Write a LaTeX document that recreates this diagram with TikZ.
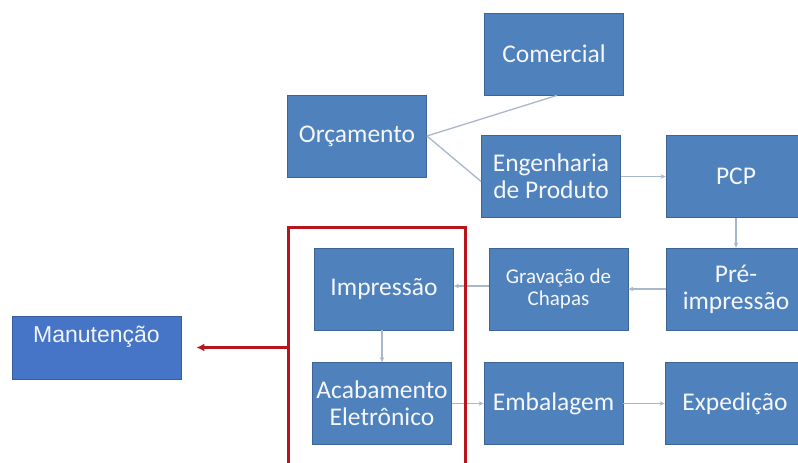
\documentclass[tikz,border=0pt]{standalone}
\usepackage{fontspec}
\setmainfont{Carlito}
\newfontfamily\arialfont{Liberation Sans}
\usetikzlibrary{arrows.meta,calc}

\definecolor{boxblue}{HTML}{4F81BD}
\definecolor{boxedge}{HTML}{3B6596}
\definecolor{mainblue}{HTML}{4674C6}
\definecolor{linkgray}{HTML}{A8B7CA}
\definecolor{groupred}{HTML}{B8141C}

\begin{document}
\begin{tikzpicture}[x=1pt,y=-1pt,
  proc/.style={rectangle, fill=boxblue, draw=boxedge, line width=0.8pt,
    minimum width=139pt, minimum height=82pt, text=white!94!boxblue,
    align=center, inner sep=2pt, font=\fontsize{25.5}{27}\selectfont},
  small/.style={font=\fontsize{21}{22.5}\selectfont},
  flow/.style={draw=linkgray, line width=1.3pt, -{Stealth[length=5pt,width=4.5pt]}},
  link/.style={draw=linkgray, line width=1.3pt}]

\useasboundingbox (0,0) rectangle (798,463);
\clip (0,0) rectangle (798,463);
\fill[white] (0,0) rectangle (798,463);

% process boxes
\node[proc] (com)  at (554,54)    {Comercial};
\node[proc] (orc)  at (357,136)   {Orçamento};
\node[proc] (eng)  at (551,176.5) {Engenharia\\de Produto};
\node[proc, minimum width=140pt] (pcp)  at (736,176.5) {PCP};
\node[proc, minimum width=140pt] (pre)  at (736,289)   {Pré-\\impressão};
\node[proc, small] (grav) at (558.5,289) {Gravação de\\Chapas};
\node[proc] (imp)  at (384,289)   {Impressão};
\node[proc] (acab) at (382,403.5) {Acabamento\\Eletrônico};
\node[proc] (emb)  at (553.5,403.5) {Embalagem};
\node[proc, minimum width=140pt] (exped) at (735,403.5) {Expedição};

% maintenance box
\node[rectangle, fill=mainblue, draw=mainblue!80!black, line width=0.8pt,
  minimum width=169pt, minimum height=63pt] (man) at (96.5,347.5) {};
\node[text=white!92!mainblue, font=\arialfont\fontsize{23}{25}\selectfont,
  inner sep=0pt] (mantxt) at (96.5,337) {Manutenção};

% connectors
\draw[link] (orc.east) -- ([xshift=3pt]com.south);
\draw[link] (orc.east) -- ([yshift=-5pt]eng.west);
\draw[flow] (eng.east) -- (pcp.west);
\draw[flow] (pcp.south) -- (pre.north);
\draw[flow] (pre.west) -- (grav.east);
\draw[flow] ([yshift=3pt]grav.west) -- ([yshift=3pt]imp.east);
\draw[flow] ([xshift=-2pt]imp.south) -- (acab.north);
\draw[flow] (acab.east) -- (emb.west);
\draw[flow] (emb.east) -- (exped.west);

% highlighted group and its link to maintenance
\node[draw=groupred, line width=3pt, minimum width=177pt, minimum height=256pt,
  inner sep=0pt] (grupo) at (376.5,355) {};
\draw[groupred, line width=2.2pt, -{Latex[length=8pt,width=8pt]}]
  (grupo.west |- man.east) -- ([xshift=15pt]man.east);

\end{tikzpicture}
\end{document}
